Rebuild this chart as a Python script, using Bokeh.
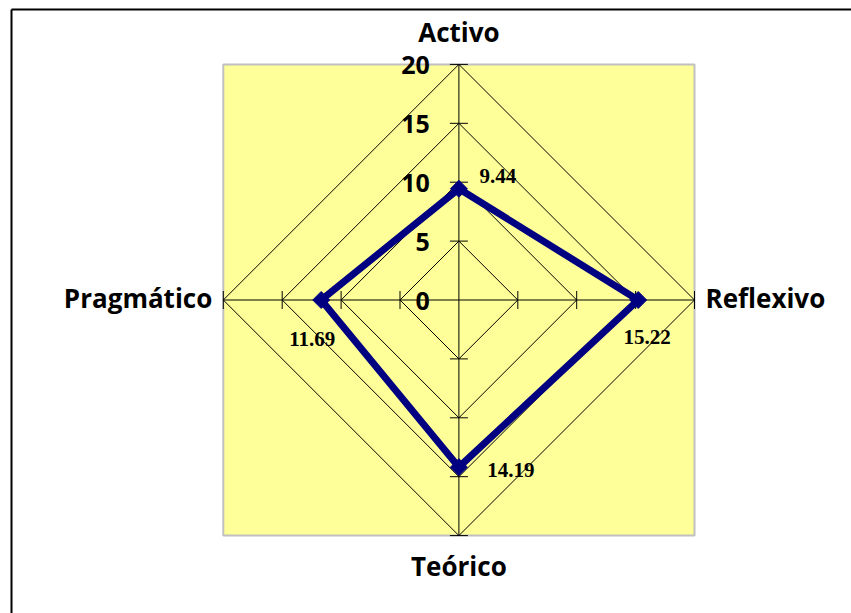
import numpy as np
from bokeh.plotting import figure
from bokeh.models import Range1d
from bokeh.core.properties import value
from bokeh.embed import file_html
from bokeh.resources import INLINE

# ---- data ----
categories = ["Activo", "Reflexivo", "Teórico", "Pragmático"]
values = [9.44, 15.22, 14.19, 11.69]
value_labels = ["9.44", "15.22", "14.19", "11.69"]
ticks = [0, 5, 10, 15, 20]
tick_labels = ["0", "5", "10", "15", "20"]
r_max = 20

# ---- layout (pixels) ----
W, H = 851, 613
S = 11.78              # pixels per data unit
CX, CY = 458.4, 299.5  # radar centre in figure pixels (from top-left)

def px_x(px):
    return (px - CX) / S

def px_y(py):
    return (CY - py) / S

p = figure(width=W, height=H,
           x_range=Range1d(px_x(0), px_x(W)), y_range=Range1d(px_y(H), px_y(0)),
           output_backend="svg", toolbar_location=None,
           x_axis_type=None, y_axis_type=None, min_border=0,
           outline_line_color=None, background_fill_color="white",
           border_fill_color="white")
p.grid.visible = False

n = len(categories)
theta = [np.pi / 2 - i * 2 * np.pi / n for i in range(n)]
cos_t = np.round(np.cos(theta), 12)
sin_t = np.round(np.sin(theta), 12)

# outer chart border (left & top visible)
p.segment(x0=[px_x(11), px_x(11)], y0=[px_y(9), px_y(9)],
          x1=[px_x(11), px_x(W)], y1=[px_y(H), px_y(9)],
          line_color="black", line_width=2)

# plot area
p.rect(x=[0], y=[0], width=[2 * r_max], height=[2 * r_max],
       fill_color="#ffff99", line_color="#c0c0c0", line_width=2)

# grid rings
ring_xs = [list(r * cos_t) for r in ticks if r > 0]
ring_ys = [list(r * sin_t) for r in ticks if r > 0]
p.patches(ring_xs, ring_ys, fill_color=None, line_color="black", line_width=1)

# spokes
p.segment(x0=[0] * n, y0=[0] * n, x1=list(r_max * cos_t), y1=list(r_max * sin_t),
          line_color="black", line_width=1)

# tick marks
half = 9 / S
tx0, ty0, tx1, ty1 = [], [], [], []
for c, s in zip(cos_t, sin_t):
    for r in ticks:
        if r == 0:
            continue
        bx, by = r * c, r * s
        px_, py_ = -s, c
        tx0.append(bx - half * px_); ty0.append(by - half * py_)
        tx1.append(bx + half * px_); ty1.append(by + half * py_)
p.segment(x0=tx0, y0=ty0, x1=tx1, y1=ty1, line_color="black", line_width=1)

# series
sx = [v * c for v, c in zip(values, cos_t)]
sy = [v * s for v, s in zip(values, sin_t)]
p.line(sx + [sx[0]], sy + [sy[0]], line_color="#000080", line_width=7,
       line_join="miter")
p.scatter(sx, sy, marker="square", angle=np.pi / 4, size=12,
          fill_color="#000080", line_color="#000080")

# data labels
p.text(x=sx, y=sy, text=value_labels,
       x_offset=[39, 9, 52, -9], y_offset=[-13, 36.5, 2.5, 38.5],
       text_font=value("Liberation Serif"), text_font_style="bold",
       text_font_size="21px", text_align="center", text_baseline="middle",
       text_color="black")

# radial tick labels
p.text(x=[0] * len(ticks), y=ticks, text=tick_labels, x_offset=-29, y_offset=1,
       text_font=value("Open Sans"), text_font_style="bold", text_font_size="25px",
       text_align="right", text_baseline="middle", text_color="black")

# category labels
p.text(x=list(r_max * cos_t), y=list(r_max * sin_t), text=categories,
       x_offset=[0, 11, 0, -11], y_offset=[-32, -2, 30, -2],
       text_align=["center", "left", "center", "right"],
       text_font=value("Open Sans"), text_font_style="bold", text_font_size="26px",
       text_baseline="alphabetic", text_color="black")

open("out.html", "w").write(file_html(p, INLINE))
